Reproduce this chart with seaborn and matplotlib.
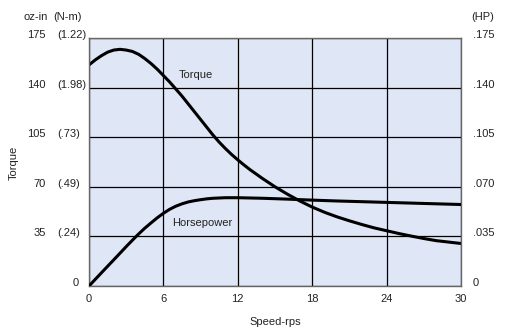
import numpy as np
import pandas as pd
import matplotlib
matplotlib.use("Agg")
import matplotlib.pyplot as plt
import matplotlib.transforms as mtransforms
import seaborn as sns

# speed (rps) vs torque (oz-in)
torque_speed = [0, 0.5, 1, 1.5, 2, 2.5, 3, 3.5, 4, 4.5, 5, 5.5, 6, 6.5, 7, 7.5, 8, 8.5, 9,
                9.5, 10, 10.5, 11, 11.5, 12, 12.5, 13, 14, 15, 16, 17, 18, 19, 20, 21, 22, 23,
                24, 25, 26, 27, 28, 29, 30]
torque_ozin = [156, 159.5, 162.5, 165, 166.5, 167, 166.5, 165.5, 163.5, 160.5, 157, 153, 148.5,
               144, 139, 134, 128.5, 123, 117.5, 112, 106.5, 101.5, 97, 92.8, 89, 85.4, 82,
               75.8, 70, 64.8, 60, 55.7, 52, 48.8, 46, 43.4, 41, 39, 37, 35.2, 33.5, 32, 31, 30]

# speed (rps) vs horsepower
hp_speed = [0, 1, 2, 3, 3.5, 4, 4.5, 5, 5.5, 6, 6.5, 7, 7.5, 8, 8.5, 9, 9.5, 10, 11, 12, 14,
            16, 18, 20, 22, 24, 26, 28, 30]
hp_values = [0, 0.0093, 0.0185, 0.0278, 0.0323, 0.0367, 0.0408, 0.0445, 0.0481, 0.0513,
             0.0541, 0.0563, 0.058, 0.0593, 0.0602, 0.0609, 0.0615, 0.0619, 0.0623, 0.0623,
             0.0619, 0.0613, 0.0606, 0.060, 0.0595, 0.059, 0.0585, 0.058, 0.0575]

x_ticks = [0, 6, 12, 18, 24, 30]
torque_ticks = [0, 35, 70, 105, 140, 175]
torque_labels = ["0", "35", "70", "105", "140", "175"]
nm_labels = ["", "(.24)", "(.49)", "(.73)", "(1.98)", "(1.22)"]
hp_ticks = [0, 0.035, 0.070, 0.105, 0.140, 0.175]
hp_labels = ["0", ".035", ".070", ".105", ".140", ".175"]

sns.set_style("white")
plt.rcParams["font.family"] = ["Liberation Sans", "DejaVu Sans"]
plt.rcParams["font.size"] = 8
txt_color = "#222222"

fig = plt.figure(figsize=(5.19, 3.27), dpi=100)
ax = fig.add_axes([89 / 519, 1 - 286 / 327, 372 / 519, 248 / 327])
ax.set_facecolor("#dfe6f5")

torque_df = pd.DataFrame({"speed": torque_speed, "torque": torque_ozin})
sns.lineplot(data=torque_df, x="speed", y="torque", ax=ax, color="black", linewidth=2.2)

ax.set_xlim(0, 30)
ax.set_ylim(0, 175)
ax.set_xticks(x_ticks)
ax.set_yticks(torque_ticks)
ax.set_yticklabels([])
ax.tick_params(axis="x", length=0, pad=6, labelsize=8, labelcolor=txt_color)
ax.tick_params(axis="y", length=0)
ax.grid(True, color="black", linewidth=0.9)
ax.set_xlabel("Speed-rps", fontsize=8, color=txt_color, labelpad=9)
ax.set_ylabel("")
for s in ax.spines.values():
    s.set_color("#666666")
    s.set_linewidth(1.0)

ax2 = ax.twinx()
hp_df = pd.DataFrame({"speed": hp_speed, "hp": hp_values})
sns.lineplot(data=hp_df, x="speed", y="hp", ax=ax2, color="black", linewidth=2.2)
ax2.set_ylim(0, 0.175)
ax2.set_yticks(hp_ticks)
ax2.set_yticklabels([])
ax2.tick_params(axis="y", length=0)
ax2.set_ylabel("")
ax2.set_xlabel("")
for s in ax2.spines.values():
    s.set_visible(False)

# y tick texts, nudged a little above the grid lines like the original
trans = mtransforms.offset_copy(ax.get_yaxis_transform(), fig=fig, y=3, units="dots")
for v, lab, nm in zip(torque_ticks, torque_labels, nm_labels):
    if v == 0:
        ax.text(-0.027, v, lab, transform=trans, ha="right", va="center", color=txt_color)
    else:
        ax.text(-0.116, v, lab, transform=trans, ha="right", va="center", color=txt_color)
        ax.text(-0.086, v, nm, transform=trans, ha="left", va="center", color=txt_color)
for v, lab in zip(torque_ticks, hp_labels):
    ax.text(1.032, v, lab, transform=trans, ha="left", va="center", color=txt_color)

fig.text(24 / 519, 1 - 17 / 327, "oz-in", ha="left", va="center", color=txt_color)
fig.text(53 / 519, 1 - 17 / 327, "(N-m)", ha="left", va="center", color=txt_color)
fig.text(471 / 519, 1 - 17 / 327, "(HP)", ha="left", va="center", color=txt_color)
fig.text(14 / 519, 1 - 163 / 327, "Torque", rotation=90, ha="center", va="center", color=txt_color)
# the original's right axis title runs off the edge of the image
fig.text(521 / 519, 1 - 165 / 327, "Power", rotation=270, ha="center", va="center", color=txt_color)

ax.text(8.6, 149, "Torque", ha="center", va="center", color=txt_color)
ax.text(9.1, 44.5, "Horsepower", ha="center", va="center", color=txt_color)

fig.savefig("out.png", dpi=100)
